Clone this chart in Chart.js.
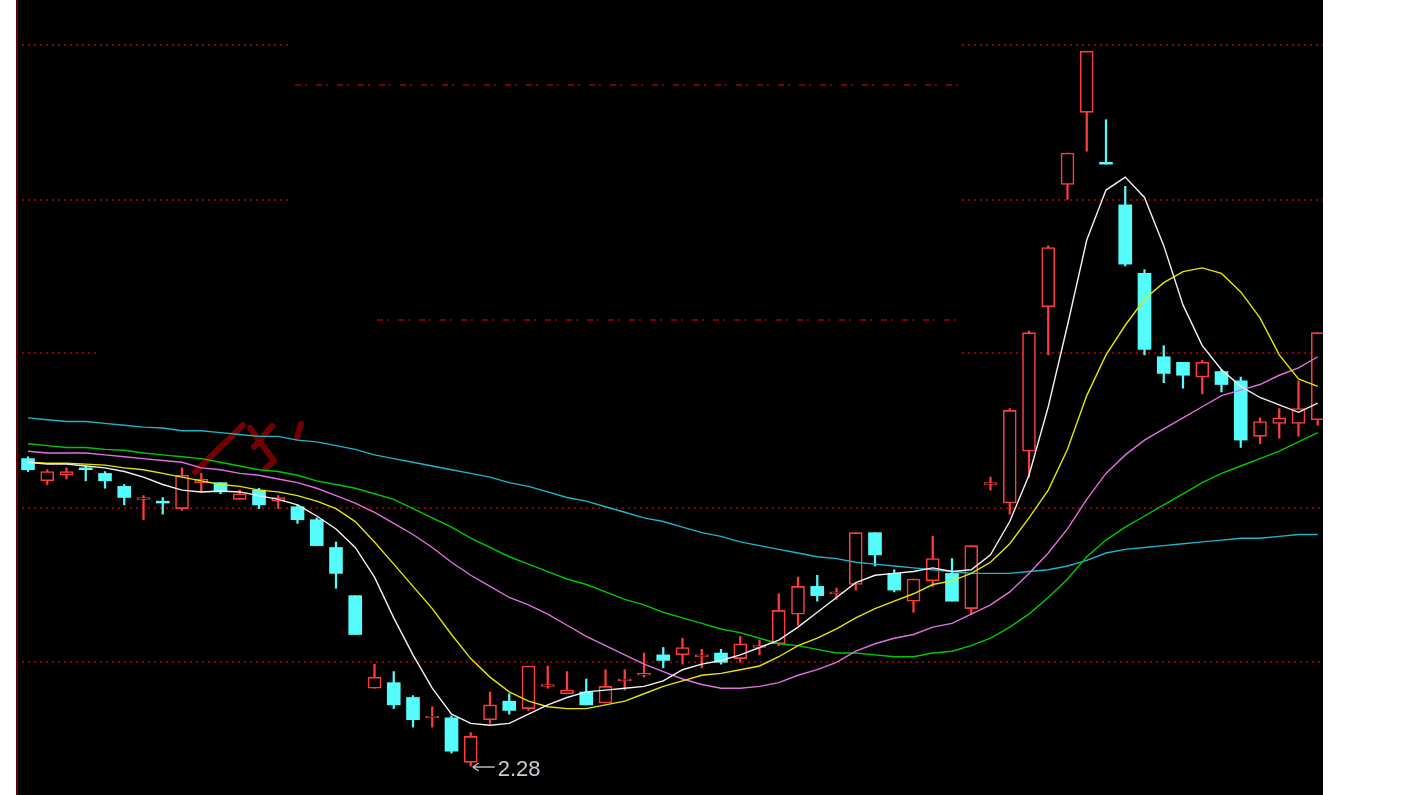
<!DOCTYPE html>
<html>
<head>
<meta charset="utf-8">
<title>K线图</title>
<script src="https://cdn.jsdelivr.net/npm/chart.js@4.4.0/dist/chart.umd.min.js"></script>
<style>
  html, body { margin: 0; padding: 0; background: #fff; }
  #panel {
    position: absolute; left: 16px; top: 0;
    width: 1307px; height: 795px;
    background: #000;
    border-left: 2px solid #640000;
    box-sizing: border-box;
  }
  #kline { display: block; }
</style>
</head>
<body>
<div id="panel"><canvas id="kline" width="1305" height="795"></canvas></div>
<script>
// ─── Daily bars (index = trading day, prices) ──────────────────────────────

const openP  = [3.94, 3.82, 3.85, 3.89, 3.86, 3.79, 3.72, 3.71, 3.67, 3.81,
                3.81, 3.72, 3.77, 3.71, 3.68, 3.61, 3.46, 3.20, 2.70, 2.73,
                2.65, 2.54, 2.54, 2.30, 2.53, 2.63, 2.59, 2.71, 2.67, 2.68,
                2.62, 2.74, 2.77, 2.88, 2.88, 2.87, 2.89, 2.86, 2.92, 2.94,
                3.10, 3.25, 3.21, 3.26, 3.54, 3.32, 3.17, 3.28, 3.32, 3.13,
                3.80, 3.70, 3.98, 4.76, 5.42, 5.81, 5.54, 5.31, 4.94, 4.49,
                4.46, 4.38, 4.41, 4.36, 4.06, 4.13, 4.13, 4.15];
const highP  = [3.95, 3.88, 3.89, 3.90, 3.87, 3.80, 3.74, 3.73, 3.89, 3.86,
                3.81, 3.77, 3.78, 3.74, 3.69, 3.62, 3.49, 3.20, 2.83, 2.79,
                2.66, 2.60, 2.55, 2.46, 2.68, 2.67, 2.82, 2.82, 2.79, 2.75,
                2.80, 2.80, 2.89, 2.92, 2.97, 2.91, 2.91, 2.98, 2.96, 3.21,
                3.30, 3.31, 3.24, 3.54, 3.54, 3.34, 3.29, 3.52, 3.40, 3.47,
                3.84, 4.21, 4.63, 5.09, 5.59, 6.14, 5.77, 5.41, 4.96, 4.55,
                4.46, 4.47, 4.42, 4.38, 4.16, 4.21, 4.36, 4.62];
const lowP   = [3.87, 3.80, 3.83, 3.82, 3.78, 3.69, 3.61, 3.64, 3.66, 3.76,
                3.75, 3.72, 3.67, 3.67, 3.59, 3.47, 3.24, 2.99, 2.70, 2.59,
                2.49, 2.49, 2.35, 2.28, 2.51, 2.56, 2.58, 2.70, 2.67, 2.61,
                2.62, 2.69, 2.76, 2.81, 2.83, 2.81, 2.83, 2.84, 2.88, 2.93,
                3.04, 3.17, 3.18, 3.23, 3.36, 3.22, 3.11, 3.25, 3.17, 3.10,
                3.77, 3.64, 3.84, 4.50, 5.34, 5.60, 5.53, 4.98, 4.50, 4.35,
                4.32, 4.29, 4.30, 4.00, 4.02, 4.05, 4.06, 4.12];
const closeP = [3.88, 3.87, 3.87, 3.88, 3.82, 3.73, 3.73, 3.70, 3.85, 3.83,
                3.76, 3.75, 3.69, 3.73, 3.61, 3.47, 3.32, 2.99, 2.76, 2.61,
                2.53, 2.55, 2.36, 2.44, 2.61, 2.58, 2.82, 2.72, 2.69, 2.61,
                2.71, 2.75, 2.78, 2.85, 2.92, 2.88, 2.84, 2.94, 2.93, 3.12,
                3.25, 3.20, 3.22, 3.54, 3.42, 3.23, 3.29, 3.40, 3.17, 3.47,
                3.81, 4.20, 4.62, 5.08, 5.59, 6.14, 5.53, 4.99, 4.53, 4.40,
                4.39, 4.46, 4.34, 4.04, 4.14, 4.16, 4.21, 4.62];

// ─── Moving average curves ────────────────────────────────────────────────

const ma5  = [3.92, 3.91, 3.91, 3.90, 3.89, 3.87, 3.84, 3.80, 3.77, 3.76,
              3.765, 3.76, 3.74, 3.72, 3.69, 3.63, 3.56, 3.46, 3.30, 3.08,
              2.88, 2.70, 2.56, 2.51, 2.50, 2.51, 2.56, 2.61, 2.65, 2.68,
              2.69, 2.70, 2.71, 2.74, 2.80, 2.83, 2.85, 2.88, 2.92, 2.96,
              3.03, 3.11, 3.19, 3.27, 3.31, 3.32, 3.33, 3.35, 3.33, 3.34,
              3.42, 3.60, 3.85, 4.22, 4.66, 5.12, 5.39, 5.46, 5.35, 5.09,
              4.77, 4.55, 4.42, 4.33, 4.27, 4.23, 4.19, 4.24];
const ma10 = [3.92, 3.915, 3.915, 3.91, 3.905, 3.89, 3.88, 3.86, 3.84, 3.82,
              3.80, 3.79, 3.77, 3.76, 3.74, 3.71, 3.67, 3.60, 3.49, 3.37,
              3.25, 3.13, 2.99, 2.86, 2.76, 2.68, 2.63, 2.60, 2.59, 2.59,
              2.61, 2.63, 2.67, 2.71, 2.74, 2.77, 2.78, 2.80, 2.82, 2.87,
              2.93, 2.97, 3.02, 3.08, 3.13, 3.17, 3.21, 3.26, 3.28, 3.32,
              3.38, 3.48, 3.62, 3.77, 3.99, 4.28, 4.50, 4.66, 4.80, 4.89,
              4.95, 4.97, 4.94, 4.84, 4.70, 4.50, 4.37, 4.33];
const ma20 = [3.98, 3.97, 3.97, 3.97, 3.96, 3.95, 3.94, 3.93, 3.92, 3.89,
              3.88, 3.86, 3.85, 3.83, 3.81, 3.78, 3.74, 3.70, 3.65, 3.59,
              3.53, 3.46, 3.38, 3.31, 3.25, 3.19, 3.15, 3.10, 3.04, 2.98,
              2.93, 2.88, 2.83, 2.79, 2.75, 2.72, 2.70, 2.70, 2.71, 2.73,
              2.77, 2.80, 2.84, 2.90, 2.94, 2.97, 2.99, 3.03, 3.05, 3.10,
              3.15, 3.22, 3.32, 3.43, 3.56, 3.72, 3.86, 3.96, 4.04, 4.10,
              4.16, 4.22, 4.28, 4.31, 4.34, 4.39, 4.43, 4.49];
const ma30 = [4.02, 4.01, 4.00, 4.00, 3.99, 3.985, 3.97, 3.96, 3.95, 3.94,
              3.92, 3.90, 3.88, 3.87, 3.85, 3.82, 3.80, 3.78, 3.75, 3.72,
              3.67, 3.62, 3.57, 3.51, 3.46, 3.41, 3.37, 3.33, 3.29, 3.26,
              3.22, 3.18, 3.15, 3.11, 3.08, 3.05, 3.02, 3.00, 2.97, 2.94,
              2.93, 2.91, 2.89, 2.89, 2.88, 2.87, 2.87, 2.89, 2.90, 2.93,
              2.97, 3.03, 3.10, 3.19, 3.29, 3.41, 3.50, 3.57, 3.63, 3.69,
              3.75, 3.81, 3.86, 3.90, 3.94, 3.98, 4.03, 4.08];
const ma60 = [4.16, 4.15, 4.14, 4.14, 4.13, 4.12, 4.11, 4.105, 4.09, 4.09,
              4.08, 4.07, 4.06, 4.06, 4.04, 4.03, 4.01, 3.99, 3.96, 3.94,
              3.92, 3.90, 3.88, 3.86, 3.84, 3.81, 3.79, 3.76, 3.73, 3.71,
              3.68, 3.65, 3.62, 3.60, 3.57, 3.54, 3.52, 3.49, 3.47, 3.45,
              3.43, 3.41, 3.40, 3.38, 3.37, 3.36, 3.35, 3.34, 3.33, 3.32,
              3.32, 3.32, 3.33, 3.34, 3.36, 3.39, 3.43, 3.45, 3.46, 3.47,
              3.48, 3.49, 3.50, 3.51, 3.51, 3.52, 3.53, 3.53];

// ─── Price window and the dotted guide levels ─────────────────────────────

const PRICE_MIN = 2.1234;
const PRICE_MAX = 6.4164;
const DAY_MIN   = -0.5195;
const DAY_MAX   = 67.273;

// level, first day, last day, style
const GUIDES = [
  [6.173, -0.31, 13.61, "dot"],  [6.173, 48.52, 68, "dot"],
  [5.957, 13.87, 48.31, "dash"],
  [5.336, -0.31, 13.61, "dot"],  [5.336, 48.52, 68, "dot"],
  [4.688, 18.13, 48.31, "dash"],
  [4.510, -0.31, 3.74, "dot"],   [4.510, 48.52, 68, "dot"],
  [3.673, -0.31, 68, "dot"],
  [2.842, -0.31, 68, "dot"],
];

const UP   = "#ff3c3c";
const DOWN = "#54fcfc";

// ─── Helpers ──────────────────────────────────────────────────────────────

const days = closeP.map((_, i) => i);
const isUp = days.map(i => closeP[i] >= openP[i]);

function series(arr) {
  return arr.map((v, i) => ({ x: i, y: v }));
}

function maDataset(arr, color) {
  return {
    type: "line",
    data: series(arr),
    borderColor: color,
    borderWidth: 1.4,
    pointRadius: 0,
    tension: 0,
    order: 1,
  };
}

// ─── Plugins: guide lines, watermark, low marker ──────────────────────────

const guidePlugin = {
  id: "guides",
  beforeDatasetsDraw(chart) {
    const { ctx, scales: { x, y } } = chart;
    ctx.save();
    GUIDES.forEach(([lvl, d0, d1, style]) => {
      const py = Math.round(y.getPixelForValue(lvl));
      ctx.lineWidth = style === "dot" ? 2 : 1.5;
      ctx.strokeStyle = style === "dot" ? "#900000" : "#a00000";
      ctx.setLineDash(style === "dot" ? [2, 4] : [6, 4, 2, 9]);
      ctx.beginPath();
      ctx.moveTo(x.getPixelForValue(d0), py);
      ctx.lineTo(Math.min(x.getPixelForValue(d1), chart.width), py);
      ctx.stroke();
    });

    // faint site watermark behind the bars
    ctx.setLineDash([]);
    ctx.strokeStyle = "rgba(125,0,0,0.9)";
    ctx.lineWidth = 6;
    ctx.lineCap = "round";
    ctx.beginPath();
    ctx.moveTo(177, 472); ctx.lineTo(225, 425);
    ctx.moveTo(232, 428); ctx.lineTo(256, 461);
    ctx.moveTo(254, 426); ctx.lineTo(236, 447);
    ctx.moveTo(256, 461); ctx.lineTo(248, 468);
    ctx.moveTo(283, 424); ctx.lineTo(279, 438);
    ctx.stroke();
    ctx.restore();
  },
  afterDatasetsDraw(chart) {
    const { ctx, scales: { x, y } } = chart;
    const low = Math.min(...lowP);
    const i   = lowP.indexOf(low);
    const px  = x.getPixelForValue(i);
    const py  = y.getPixelForValue(low) + 1;

    ctx.save();
    ctx.strokeStyle = "#b4b8c0";
    ctx.lineWidth = 1.5;
    ctx.beginPath();
    ctx.moveTo(px + 2, py);  ctx.lineTo(px + 24, py);
    ctx.moveTo(px + 2, py);  ctx.lineTo(px + 8, py - 4);
    ctx.moveTo(px + 2, py);  ctx.lineTo(px + 8, py + 4);
    ctx.stroke();
    ctx.fillStyle = "#c8ccd6";
    ctx.font = "22px 'Liberation Sans', Arial, sans-serif";
    ctx.textBaseline = "alphabetic";
    ctx.fillText(low.toFixed(2), px + 27, py + 9);
    ctx.restore();
  },
};

// ─── Chart ────────────────────────────────────────────────────────────────

new Chart(document.getElementById("kline"), {
  type: "bar",
  data: {
    datasets: [
      maDataset(ma5,  "#f2f2f2"),
      maDataset(ma10, "#e6e600"),
      maDataset(ma20, "#e070e0"),
      maDataset(ma30, "#00c800"),
      maDataset(ma60, "#1fb4c8"),
      {
        // candle bodies: hollow red up days, solid cyan down days
        type: "bar",
        data: days.map(i => ({ x: i, y: [openP[i], closeP[i]] })),
        order: 5,
        grouped: false,
        barThickness: 13,
        backgroundColor: days.map(i => isUp[i] ? "#000000" : DOWN),
        borderColor: days.map(i => isUp[i] ? UP : DOWN),
        borderWidth: days.map(i => isUp[i] ? 1.6 : 0),
        borderSkipped: false,
      },
      {
        // high-low wicks
        type: "bar",
        data: days.map(i => ({ x: i, y: [lowP[i], highP[i]] })),
        order: 6,
        grouped: false,
        barThickness: 1.6,
        backgroundColor: days.map(i => isUp[i] ? UP : DOWN),
        borderWidth: 0,
      },
    ],
  },
  options: {
    responsive: false,
    animation: false,
    events: [],
    layout: { padding: 0 },
    plugins: { legend: { display: false }, tooltip: { enabled: false } },
    scales: {
      x: { type: "linear", min: DAY_MIN, max: DAY_MAX, offset: false, display: false },
      y: { type: "linear", min: PRICE_MIN, max: PRICE_MAX, display: false },
    },
  },
  plugins: [guidePlugin],
});
</script>
</body>
</html>
